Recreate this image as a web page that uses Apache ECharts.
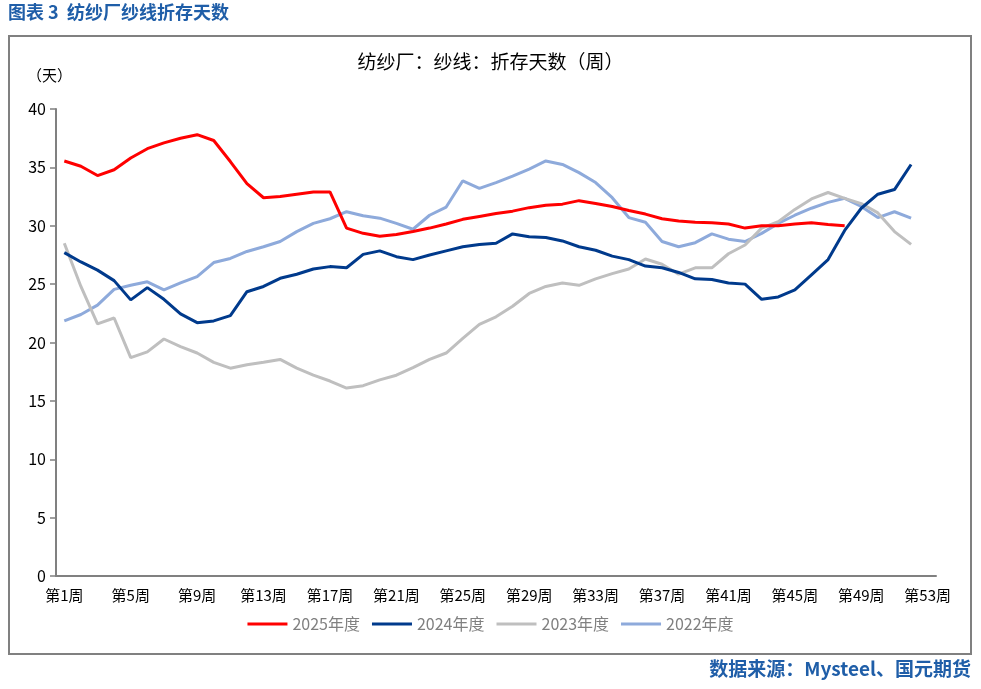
<!DOCTYPE html>
<html>
<head>
<meta charset="utf-8">
<script src="https://cdn.jsdelivr.net/npm/echarts@6/dist/echarts.min.js"></script>
<style>
  html, body { margin: 0; padding: 0; background: #fff; }
  #main { width: 981px; height: 689px; }
</style>
</head>
<body>
<div id="main"></div>
<script>
// 周次
var weeks = [];
for (var i = 1; i <= 53; i++) { weeks.push('第' + i + '周'); }

// 各年度折存天数（天）
var y2025 = [35.55, 35.1, 34.3, 34.8, 35.8, 36.6, 37.1, 37.5, 37.8, 37.3, 35.5, 33.6, 32.4, 32.5, 32.7, 32.9, 32.9, 29.8,
  29.35, 29.1, 29.25, 29.5, 29.8, 30.15, 30.55, 30.8, 31.05, 31.25, 31.55, 31.75, 31.85, 32.15, 31.9, 31.65, 31.3, 31.0,
  30.6, 30.4, 30.3, 30.25, 30.15, 29.8, 30.0, 30.0, 30.15, 30.25, 30.1, 30.0];
var y2024 = [27.7, 26.9, 26.2, 25.3, 23.65, 24.7, 23.7, 22.45, 21.7, 21.85, 22.3, 24.35, 24.8, 25.5, 25.85, 26.3, 26.5, 26.4,
  27.55, 27.85, 27.35, 27.1, 27.5, 27.85, 28.2, 28.4, 28.5, 29.3, 29.05, 29.0, 28.7, 28.2, 27.9, 27.4, 27.1, 26.55,
  26.4, 26.0, 25.45, 25.4, 25.1, 25.0, 23.7, 23.9, 24.5, 25.8, 27.1, 29.6, 31.5, 32.7, 33.1, 35.25];
var y2023 = [28.5, 24.8, 21.6, 22.1, 18.7, 19.2, 20.3, 19.65, 19.1, 18.3, 17.8, 18.1, 18.3, 18.55, 17.8, 17.2, 16.7, 16.1,
  16.3, 16.8, 17.2, 17.85, 18.55, 19.1, 20.35, 21.55, 22.2, 23.1, 24.2, 24.8, 25.1, 24.9, 25.45, 25.9, 26.3, 27.15,
  26.7, 25.85, 26.4, 26.4, 27.6, 28.35, 29.8, 30.35, 31.4, 32.3, 32.85, 32.35, 31.9, 31.1, 29.5, 28.4];
var y2022 = [21.85, 22.4, 23.2, 24.55, 24.9, 25.2, 24.5, 25.1, 25.65, 26.85, 27.2, 27.8, 28.2, 28.65, 29.5, 30.2, 30.6, 31.2,
  30.85, 30.65, 30.2, 29.7, 30.9, 31.6, 33.85, 33.2, 33.7, 34.25, 34.85, 35.55, 35.25, 34.55, 33.7, 32.4, 30.7, 30.3,
  28.65, 28.2, 28.55, 29.3, 28.85, 28.65, 29.35, 30.2, 30.9, 31.5, 32.0, 32.35, 31.65, 30.7, 31.2, 30.65];

var seriesNames = ['2025年度', '2024年度', '2023年度', '2022年度'];
var seriesColors = ['#ff0000', '#003a8c', '#bfbfbf', '#8eaadb'];
var seriesData = [y2025, y2024, y2023, y2022];

var chart = echarts.init(document.getElementById('main'));

var cjk = '"Noto Sans CJK SC", sans-serif';

var series = seriesNames.map(function (name, k) {
  return {
    name: name,
    type: 'line',
    data: seriesData[k],
    symbol: 'none',
    z: 10 - k,
    lineStyle: { width: 3, color: seriesColors[k] },
    itemStyle: { color: seriesColors[k] }
  };
});

var option = {
  backgroundColor: '#fff',
  animation: false,
  title: [{
    text: '纺纱厂：纱线：折存天数（周）',
    left: 'center',
    top: 47,
    textStyle: { fontSize: 19, fontWeight: 'normal', color: '#000', fontFamily: cjk }
  }],
  graphic: [
    {
      type: 'text', left: 8, top: 3,
      style: { text: '图表 3  纺纱厂纱线折存天数', fill: '#1f5ea8', fontSize: 18, fontWeight: 'bold', fontFamily: cjk }
    },
    {
      type: 'rect', shape: { x: 9, y: 36, width: 962, height: 618 },
      style: { fill: 'none', stroke: '#808080', lineWidth: 2 }, silent: true, z: -1
    },
    {
      type: 'text', left: 27, top: 68,
      style: { text: '（天）', fill: '#000', fontSize: 15, fontFamily: cjk }
    },
    {
      type: 'text', right: 10, top: 659,
      style: { text: '数据来源：Mysteel、国元期货', fill: '#1f5ea8', fontSize: 19, fontWeight: 'bold', fontFamily: cjk }
    }
  ],
  legend: {
    data: seriesNames,
    bottom: 52,
    left: 'center',
    icon: 'rect',
    itemWidth: 40,
    itemHeight: 3,
    itemGap: 12,
    textStyle: { color: '#808080', fontSize: 16, fontFamily: cjk }
  },
  grid: { left: 56, right: 45, top: 109, bottom: 113 },
  xAxis: {
    type: 'category',
    data: weeks,
    boundaryGap: true,
    axisLine: { lineStyle: { color: '#808080', width: 2 } },
    axisTick: { interval: 0, length: 6, lineStyle: { color: '#808080', width: 1.5 } },
    axisLabel: { interval: 3, color: '#000', fontSize: 15, margin: 12, fontFamily: cjk },
    splitLine: { show: false }
  },
  yAxis: {
    type: 'value',
    min: 0,
    max: 40,
    interval: 5,
    axisLine: { show: true, lineStyle: { color: '#808080', width: 2 } },
    axisTick: { show: true, length: 6, lineStyle: { color: '#808080', width: 1.5 } },
    axisLabel: { color: '#000', fontSize: 16, margin: 10, fontFamily: cjk },
    splitLine: { show: false }
  },
  series: series
};

chart.setOption(option);
</script>
</body>
</html>
